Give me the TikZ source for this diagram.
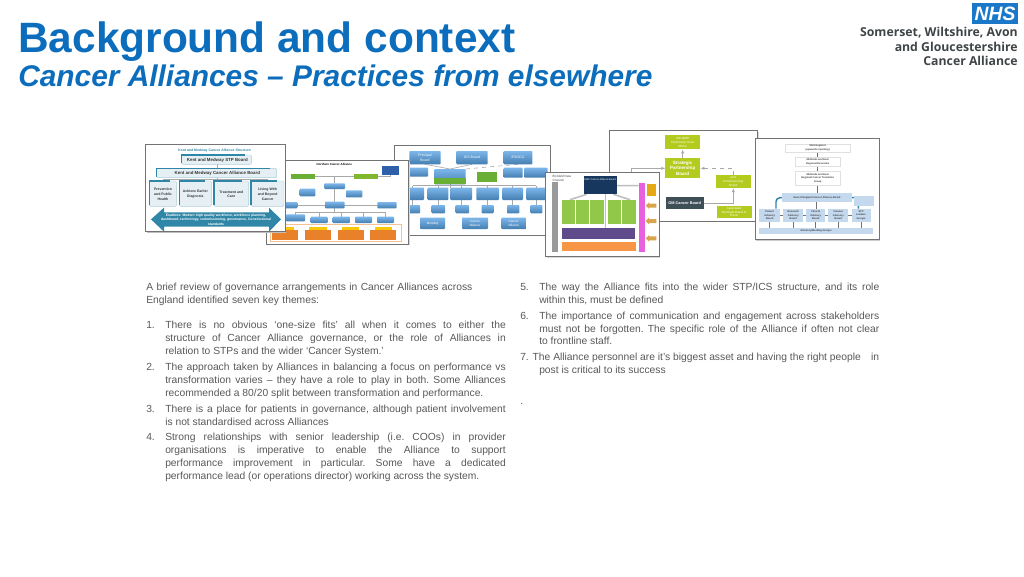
\documentclass[tikz,border=0pt]{standalone}
\usepackage{fontspec}
\setmainfont{Liberation Sans}
\newfontfamily\logofont{Open Sans}
\usetikzlibrary{arrows.meta}
\definecolor{titleblue}{HTML}{0B6DBB}
\definecolor{bodygrey}{HTML}{595959}
\definecolor{nhsblue}{HTML}{1B78C8}
\definecolor{logogrey}{HTML}{3F4447}
\definecolor{teal}{HTML}{2F86A6}
\definecolor{paleteal}{HTML}{E6F0F4}
\definecolor{midblue}{HTML}{4F94D0}
\definecolor{lightblue}{HTML}{7DB6EA}
\definecolor{deepblue}{HTML}{2F5FA8}
\definecolor{orangeb}{HTML}{E9812A}
\definecolor{thumbgreen}{HTML}{6AAF35}
\definecolor{limegreen}{HTML}{B3CB1E}
\definecolor{slate}{HTML}{3F4F58}
\definecolor{palegreen}{HTML}{92C84A}
\definecolor{paleblue}{HTML}{C4D9EE}
\definecolor{lineg}{HTML}{A8A8A8}
\definecolor{navy}{HTML}{17375E}
\definecolor{purpleb}{HTML}{5F4B8B}
\definecolor{orangec}{HTML}{F79646}
\definecolor{magentab}{HTML}{E85FE0}
\definecolor{amber}{HTML}{E6A817}
\definecolor{tan}{HTML}{D9A44E}
\newcommand{\bx}[5]{\fill[#5] (#1,#2) rectangle (#3,#4);}
\newcommand{\tb}[4][]{\node[thumbtext,#1] at (#2,#3) {#4};}
\newcommand{\ft}[2]{\fontsize{#1}{#2}\selectfont\bfseries}
\newcommand{\fr}[2]{\fontsize{#1}{#2}\selectfont}
\tikzset{
  x=0.75pt,y=-0.75pt,
  titlefont/.style={font=\fontsize{31.8}{36}\selectfont\bfseries,text=titleblue,anchor=base west,inner sep=0pt},
  subfont/.style={font=\fontsize{22.4}{24}\selectfont\bfseries\itshape,text=titleblue,anchor=base west,inner sep=0pt},
  bodytext/.style={font=\fontsize{7.72}{9.6}\selectfont\frenchspacing,text=bodygrey,anchor=north west,inner sep=0pt,align=justify},
  bodyleft/.style={font=\fontsize{7.72}{9.6}\selectfont\frenchspacing,text=bodygrey,anchor=north west,inner sep=0pt,align=left},
  numtext/.style={font=\fontsize{7.72}{9.6}\selectfont,text=bodygrey,anchor=north west,inner sep=0pt},
  logotext/.style={font=\logofont\fontsize{9.2}{10.9}\selectfont\bfseries,text=logogrey,anchor=north east,inner sep=0pt,align=right},
  thumbframe/.style={fill=white,draw=black!55,line width=0.6pt},
  thumbtext/.style={font=\fontsize{2.3}{2.8}\selectfont,inner sep=0pt,align=center},
  zoomed/.style={x=0.25pt,y=-0.25pt},
  link/.style={draw=lineg,line width=0.45pt},
  glossy/.style={top color=lightblue,bottom color=midblue!85!black,rounded corners=0.6pt},
}
\begin{document}
\begin{tikzpicture}
\useasboundingbox (0,0) rectangle (1024,576);
\fill[white] (0,0) rectangle (1024,576);

\node[titlefont] (title) at (18,52) {Background and context};
\node[subfont] (subtitle) at (18,86) {Cancer Alliances – Practices from elsewhere};

% logo
\fill[nhsblue] (972,3) rectangle (1018,24);
\node[font=\fontsize{14.5}{15}\selectfont\bfseries\itshape,text=white,inner sep=0pt] (nhs) at (995,13.5) {NHS};
\node[logotext] (logo) at (1018,27) {Somerset, Wiltshire, Avon\\and Gloucestershire\\Cancer Alliance};

% thumbnail 5 (green)
\begin{scope}[shift={(600,125)},zoomed]
\fill[black!15] (31,20) rectangle (476,292);
\filldraw[thumbframe] (27,16) rectangle (472,288);
\bx{196}{31}{301}{73}{limegreen}
\bx{196}{100}{301}{160}{limegreen}
\bx{348}{150}{452}{189}{limegreen}
\bx{350}{243}{455}{278}{limegreen}
\bx{197}{216}{312}{252}{slate}
\draw[link,-{Latex[length=3pt]}] (248,100) -- (248,73);
\draw[link,-{Latex[length=3pt]}] (95,175) -- (95,130) -- (196,130);
\draw[link,dashed,-{Latex[length=3pt]}] (400,150) -- (400,130) -- (301,130);
\draw[link,-{Latex[length=3pt]}] (312,234) -- (400,234) -- (400,189);
\tb[text=white,font=\fr{2.2}{2.8}]{248}{52}{SW WMH\\Partnership Head\\Officer}
\tb[text=white,font=\ft{3.4}{4.3}]{248}{130}{Strategic\\Partnership\\Board}
\tb[text=white,font=\fr{2.2}{2.8}]{400}{170}{Joint\\Commissioning\\Board}
\tb[text=white,font=\fr{2.2}{2.8}]{402}{261}{Associated\\Oversight Board of\\Trusts}
\tb[text=white,font=\ft{2.9}{3.5}]{254}{234}{GM Cancer Board}
\end{scope}

% thumbnail 3 (blue)
\begin{scope}[shift={(400,125)},zoomed]
\fill[black!15] (-14,66) rectangle (454,334);
\filldraw[thumbframe] (-18,62) rectangle (450,330);
\draw[link] (75,118) -- (150,132) (216,118) -- (150,132);
\draw[link,dashed] (354,118) -- (197,132);
\draw[link] (150,178) -- (150,188) (38,182) -- (408,182);
\foreach \u in {38,114,183,263,338,408}{
  \draw[link] (\u,182) -- (\u,188) (\u,225) -- (\u,240);
  }
\foreach \a/\b/\c/\d in {28/78/122/118,169/78/263/118,311/78/397/118,10/128/84/155,311/128/368/158,373/128/443/158,
  10/188/72/225,83/188/145/225,151/188/216/225,229/188/297/225,307/188/369/225,379/188/437/225,
  22/240/60/265,95/240/135/265,167/240/207/265,245/240/281/265,321/240/358/265,391/240/427/265,
  60/278/135/312,186/278/264/312,304/278/379/312}{
  \shade[glossy] (\a,\b) rectangle (\c,\d);
}
\shade[glossy] (103,132) rectangle (197,178);
\fill[thumbgreen] (103,160) rectangle (197,178);
\fill[thumbgreen] (230,142) rectangle (292,172);
\tb[text=white,font=\fr{2.6}{3.2}]{75}{98}{Principal\\Board}
\tb[text=white,font=\fr{2.6}{3.2}]{216}{98}{ICS Board}
\tb[text=white,font=\fr{2.6}{3.2}]{354}{98}{ESOCG}
\tb[text=white,font=\fr{2.3}{2.9}]{98}{295}{Mortality}
\tb[text=white,font=\fr{2.3}{2.9}]{225}{295}{Cancer\\Alliance}
\tb[text=white,font=\fr{2.3}{2.9}]{341}{295}{Cancer\\Alliance}
\end{scope}

% thumbnail 4 (portrait)
\begin{scope}[shift={(400,125)},zoomed]
\fill[black!15] (441,147) rectangle (781,399);
\filldraw[thumbframe] (437,143) rectangle (777,395);
\node[thumbtext,anchor=north west,align=left,text=black!70] at (457,150) {BCAGM Data\\Channel};
\bx{457}{170}{473}{380}{black!40}
\draw[line width=1.2pt,black!25] (560,208) -- (510,224) (640,208) -- (690,224) (650,182) -- (716,182);
\draw[line width=1.2pt,black!25] (617,208) -- (617,310);
\bx{551}{152}{650}{208}{navy}
\tb[text=white,font=\fr{1.9}{2.4}]{600}{163}{SWC Cancer Alliance Board}
\foreach \a/\c in {485/525,528/567,571/612,623/663,667/708}{\bx{\a}{224}{\c}{296}{palegreen}}
\bx{485}{310}{706}{342}{purpleb}
\bx{485}{350}{708}{377}{orangec}
\bx{716}{173}{735}{382}{magentab}
\bx{740}{176}{769}{212}{amber}
\foreach \v in {232,278,330}{
  \fill[tan] (737,\v+10) -- (747,\v) -- (747,\v+4) -- (769,\v+4) -- (769,\v+16) -- (747,\v+16) -- (747,\v+20) -- cycle;
}
\end{scope}

% thumbnail 2 (Northern)
\begin{scope}[shift={(140,125)},zoomed]
\fill[black!15] (384,111) rectangle (809,361);
\filldraw[thumbframe] (380,107) rectangle (805,357);
\tb[font=\ft{2.2}{2.8}]{583}{118}{Northern Cancer Alliance}
\draw[link] (524,154) -- (642,154) (584,154) -- (584,175) (713,154) -- (750,154) -- (750,149) (584,192) -- (584,230) (455,240) -- (740,240) (584,250) -- (584,262) (467,262) -- (737,262);
\foreach \u in {467,538,604,670,737}{\draw[link] (\u,262) -- (\u,275);}
\bx{452}{146}{524}{162}{thumbgreen}
\bx{642}{146}{713}{162}{thumbgreen!70!limegreen}
\bx{725}{123}{778}{149}{deepblue}
\foreach \a/\b/\c/\d in {553/175/615/192,479/191/526/214,618/196/667/217,430/231/472/250,555/230/614/250,712/231/770/250,438/268/495/289,512/275/563/294,578/275/630/294,645/275/696/294,711/275/762/294}{
  \shade[glossy] (\a,\b) rectangle (\c,\d);
}
\draw[orangeb!50,line width=0.4pt] (390,298) rectangle (783,348);
\foreach \a in {397,495,593,691}{
  \fill[orangeb] (\a,314) rectangle ++(78,30);
  \fill[yellow!60!orange] (\a+13,305) rectangle ++(52,9);
}
\end{scope}

% thumbnail 1 (Kent and Medway)
\begin{scope}[shift={(140,125)},zoomed]
\fill[black!25] (20,61) rectangle (439,324);
\filldraw[thumbframe] (16,57) rectangle (435,320);
\draw[link] (232,118) -- (232,130) (232,158) -- (232,168) (70,163) -- (383,163);
\foreach \u in {69,166,274,383}{\draw[link] (\u,163) -- (\u,168);}
\foreach \a/\b/\c/\d in {125/90/335/118,50/130/410/158,28/168/110/244,118/168/214/244,222/168/326/244,333/168/432/244}{
  \filldraw[fill=paleteal,draw=teal!40,line width=0.3pt,rounded corners=1pt] (\a,\b) rectangle (\c,\d);
  \draw[teal,line width=0.8pt] (\a,\d-3) -- (\a,\b) -- (\c-20,\b);
}
\tb[text=teal,font=\ft{2.6}{3.2}]{224}{76}{Kent and Medway Cancer Alliance Structure}
\tb[text=black!80,font=\ft{3.3}{4}]{232}{105}{Kent and Medway STP Board}
\tb[text=black!80,font=\ft{3.3}{4}]{232}{145}{Kent and Medway Cancer Alliance Board}
\tb[text=black!80,font=\ft{2.6}{3.6}]{69}{208}{Prevention\\and Public\\Health}
\tb[text=black!80,font=\ft{2.6}{3.6}]{166}{208}{Achieve Earlier\\Diagnosis}
\tb[text=black!80,font=\ft{2.6}{3.6}]{274}{208}{Treatment and\\Care}
\tb[text=black!80,font=\ft{2.6}{3.6}]{383}{208}{Living With\\and Beyond\\Cancer}
\fill[teal] (33,283) -- (72,248) -- (72,262) -- (387,262) -- (387,248) -- (423,283) -- (387,320) -- (387,305) -- (72,305) -- (72,320) -- cycle;
\tb[text=white,font=\ft{2.55}{3.3}]{228}{284}{Enablers: Modern high quality workforce, workforce planning,\\dashboard, technology, commissioning, governance, Constitutional\\standards}
\end{scope}

% thumbnail 6 (East of England)
\begin{scope}[shift={(750,130)},zoomed]
\fill[black!20] (19,29) rectangle (390,332);
\filldraw[thumbframe] (15,25) rectangle (388,328);
\draw[black!55,line width=0.5pt] (203,67) -- (203,82) (203,110) -- (203,124) (203,166) -- (203,190) (200,216) -- (200,236);
\foreach \u in {59,130,197,265,333}{\draw[black!55,line width=0.5pt] (\u,276) -- (\u,293);}
\draw[black!55,line width=0.5pt] (90,256) -- (100,256) (160,256) -- (168,256) (226,256) -- (235,256) (295,256) -- (305,256);
\draw[teal,line width=1.1pt,rounded corners=3pt] (97,203) -- (78,203) -- (78,236) (305,203) -- (325,203) -- (325,236);
\foreach \a/\b/\c/\d in {105/42/302/67,135/82/272/110,135/124/272/166}{
  \filldraw[fill=white,draw=black!12,line width=0.3pt] (\a,\b) rectangle (\c,\d);
}
\foreach \a/\b/\c/\d in {97/190/305/216,312/198/372/228,28/236/90/276,100/236/160/276,168/236/226/276,235/236/295/276,305/236/362/276,28/293/368/312}{
  \fill[paleblue] (\a,\b) rectangle (\c,\d);
}
\tb[text=black!75,font=\ft{1.9}{2.5}]{203}{54}{NHS England\\(upwards reporting)}
\tb[text=black!75,font=\ft{1.9}{2.5}]{203}{96}{Midlands and East\\Regional Executive}
\tb[text=black!75,font=\ft{1.9}{2.5}]{203}{145}{Midlands and East\\Regional Cancer Transition\\Group}
\tb[text=black!75,font=\ft{1.9}{2.5}]{201}{203}{East of England Cancer Alliance Board}
\tb[text=black!75,font=\ft{1.9}{2.5}]{59}{256}{Patient\\Advisory\\Board}
\tb[text=black!75,font=\ft{1.9}{2.5}]{130}{256}{Research\\Advisory\\Board}
\tb[text=black!75,font=\ft{1.9}{2.5}]{197}{256}{Clinical\\Advisory\\Board}
\tb[text=black!75,font=\ft{1.9}{2.5}]{265}{256}{Finance\\Advisory\\Board}
\tb[text=black!75,font=\ft{1.9}{2.5}]{333}{256}{STP\\Leaders\\Groups}
\tb[text=black!75,font=\ft{1.9}{2.5}]{198}{302}{Advisory/Working Groups}
\end{scope}

% body text, left column
\node[bodyleft,text width=345*0.75pt] (intro) at (146,281.5) {\strut A brief review of governance arrangements in Cancer Alliances across\\England identified seven key themes:};
\node[numtext] (n1) at (146,319.5) {\strut 1.};
\node[bodytext,text width=340.5*0.75pt] (i1) at (165,319.5) {\strut There is no obvious ‘one-size fits’ all when it comes to either the\linebreak structure of Cancer Alliance governance, or the role of Alliances in\linebreak relation to STPs and the wider ‘Cancer System.’};
\node[numtext] (n2) at (146,361.5) {\strut 2.};
\node[bodytext,text width=340.5*0.75pt] (i2) at (165,361.5) {\strut The approach taken by Alliances in balancing a focus on performance vs\linebreak transformation varies – they have a role to play in both. Some Alliances\linebreak recommended a 80/20 split between transformation and performance.};
\node[numtext] (n3) at (146,403) {\strut 3.};
\node[bodytext,text width=340.5*0.75pt] (i3) at (165,403) {\strut There is a place for patients in governance, although patient involvement\linebreak is not standardised across Alliances};
\node[numtext] (n4) at (146,431.5) {\strut 4.};
\node[bodytext,text width=340.5*0.75pt] (i4) at (165,431.5) {\strut Strong relationships with senior leadership (i.e. COOs) in provider\linebreak organisations is imperative to enable the Alliance to support\linebreak performance improvement in particular. Some have a dedicated\linebreak performance lead (or operations director) working across the system.};

% body text, right column
\node[numtext] (n5) at (520,281.5) {\strut 5.};
\node[bodytext,text width=340*0.75pt] (i5) at (539,281.5) {\strut The way the Alliance fits into the wider STP/ICS structure, and its role\linebreak within this, must be defined};
\node[numtext] (n6) at (520,310) {\strut 6.};
\node[bodytext,text width=340*0.75pt] (i6) at (539,310) {\strut The importance of communication and engagement across stakeholders\linebreak must not be forgotten. The specific role of the Alliance if often not clear\linebreak to frontline staff.};
\node[numtext] (i7) at (520,351.5) {\strut\hbox to 269.25pt{7. The Alliance personnel are it’s biggest asset and having the right people\hfill in}};
\node[bodyleft] (i7b) at (539,364.5) {\strut post is critical to its success};
\node[numtext] (dot) at (520,395.5) {\strut .};
\end{tikzpicture}
\end{document}
